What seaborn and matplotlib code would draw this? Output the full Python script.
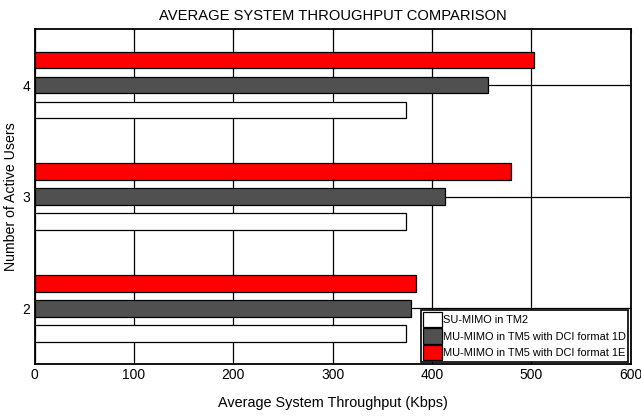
import matplotlib
matplotlib.use("Agg")
import matplotlib.pyplot as plt
import numpy as np
import pandas as pd
import seaborn as sns

# data
users = ["4", "3", "2"]
su_mimo_tm2 = [374, 374, 374]
mu_mimo_1d = [456, 413, 379]
mu_mimo_1e = [503, 480, 384]

series_names = ["SU-MIMO in TM2",
                "MU-MIMO in TM5 with DCI format 1D",
                "MU-MIMO in TM5 with DCI format 1E"]
series_colors = ["#ffffff", "#505050", "#ff0000"]
x_ticks = [0, 100, 200, 300, 400, 500, 600]

df = pd.DataFrame({
    "users": users * 3,
    "throughput": su_mimo_tm2 + mu_mimo_1d + mu_mimo_1e,
    "scheme": [series_names[0]] * 3 + [series_names[1]] * 3 + [series_names[2]] * 3,
})

sns.set_style("white")
plt.rcParams["font.family"] = ["Liberation Sans", "DejaVu Sans"]
plt.rcParams["text.color"] = "black"
plt.rcParams["axes.labelcolor"] = "black"
plt.rcParams["xtick.color"] = "black"
plt.rcParams["ytick.color"] = "black"

fig = plt.figure(figsize=(6.41, 4.17), dpi=100)
ax = fig.add_axes([0.0541, 0.1264, 0.9298, 0.8034])

# red on top, white at the bottom of each group
hue_order = series_names[::-1]
palette = dict(zip(series_names, series_colors))
sns.barplot(data=df, x="throughput", y="users", hue="scheme", order=users,
            hue_order=hue_order, palette=palette, orient="h",
            width=0.672, gap=0.333, edgecolor="black", linewidth=0.9,
            saturation=1, ax=ax, legend=False, zorder=3)

ax.set_xlim(0, 600)
ax.set_ylim(2.5, -0.5)
ax.set_xticks(x_ticks)
ax.set_axisbelow(True)
ax.grid(True, color="black", linewidth=0.9)
ax.tick_params(direction="in", top=True, right=True, length=3, labelsize=10,
               color="black", pad=3)
for s in ax.spines.values():
    s.set_visible(True)
    s.set_color("black")
    s.set_linewidth(1.3)

ax.set_title("AVERAGE SYSTEM THROUGHPUT COMPARISON", fontsize=10.6, pad=7)
ax.set_xlabel("Average System Throughput (Kbps)", fontsize=10.4, labelpad=10)
ax.set_ylabel("Number of Active Users", fontsize=10.2, labelpad=3)

# legend in the original order
handles = [plt.Rectangle((0, 0), 1, 1, facecolor=palette[n], edgecolor="black", linewidth=0.9)
           for n in series_names]
leg = ax.legend(handles, series_names, loc="lower right", bbox_to_anchor=(0.996, 0.006),
                fontsize=7.9, frameon=True, fancybox=False, framealpha=1,
                edgecolor="black", borderaxespad=0, borderpad=0.2,
                handlelength=1.75, handleheight=1.75, handletextpad=0.1,
                labelspacing=0.12)
leg.get_frame().set_linewidth(1.2)
leg.set_zorder(5)

fig.savefig("out.png", dpi=100)
